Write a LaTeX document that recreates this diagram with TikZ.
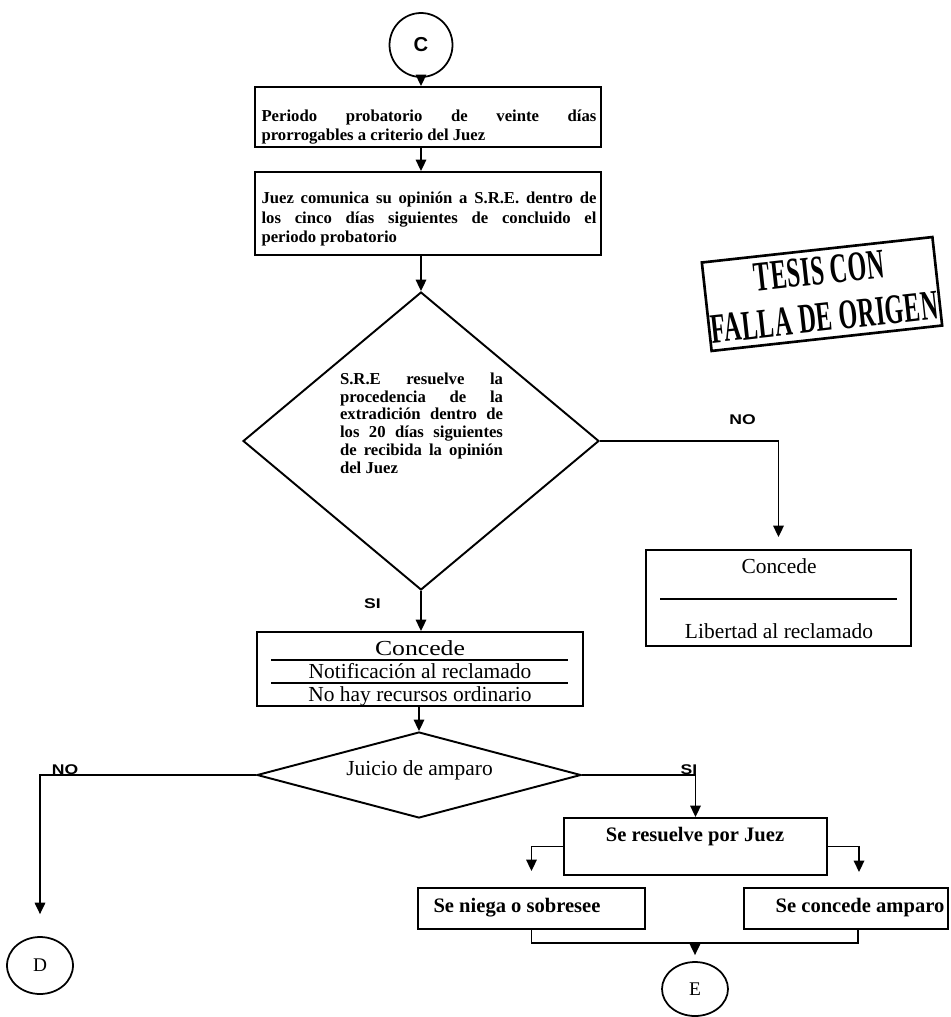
\documentclass[tikz,border=0pt]{standalone}
\usepackage{fontspec}
\setmainfont{Liberation Serif}
\newfontfamily\tagfont{Liberation Sans}
\newfontfamily\stampfont[LetterSpace=2]{Liberation Serif}
\usetikzlibrary{shapes.geometric,arrows.meta}

\begin{document}
\begin{tikzpicture}[x=0.02cm,y=-0.02cm,
  every node/.style={inner sep=0pt},
  frame/.style={draw,line width=1.1pt,rectangle},
  decision/.style={draw,line width=1.1pt,diamond},
  terminal/.style={draw,line width=1pt,ellipse},
  link/.style={line width=0.9pt},
  flow/.style={link,-{Triangle[length=6.5pt,width=6pt]}},
  rule/.style={line width=1.1pt},
  para/.style={font=\fontsize{9.5}{11.3}\selectfont\bfseries,align=justify,text width=6.7cm},
  entry/.style={font=\fontsize{12.2}{14}\selectfont,anchor=base},
  entryb/.style={font=\fontsize{11.7}{14}\selectfont\bfseries,anchor=base},
  tag/.style={font=\fontsize{8}{9}\selectfont\tagfont\bfseries},
  stamptext/.style={transform shape,align=center,font=\fontsize{13.7}{26.6}\selectfont\stampfont\bfseries},
]
\useasboundingbox (0,0) rectangle (950,1017);

% ---- entry connector and the two opening steps
\node[terminal,minimum width=1.26cm,minimum height=1.28cm] (C) at (421,45)
  {\fontsize{11.5}{12}\selectfont\tagfont\bfseries C};

\node[frame,minimum width=6.92cm,minimum height=1.2cm] (b1) at (428,117) {};
\node[para] (b1t) at (429,127)
  {Periodo probatorio de veinte días\linebreak prorrogables a criterio del Juez};

\node[frame,minimum width=6.92cm,minimum height=1.66cm] (b2) at (428,213.5) {};
\node[para,font=\fontsize{9.5}{10.9}\selectfont\bfseries] (b2t) at (429,219)
  {Juez comunica su opinión a S.R.E. dentro de\linebreak los cinco días siguientes de concluido el\linebreak periodo probatorio};

% ---- first decision
\node[decision,minimum width=7.12cm,minimum height=5.96cm] (d1) at (421,441) {};
\node[para,text width=3.26cm,font=\fontsize{9.5}{10.1}\selectfont\bfseries] (d1t) at (421.5,423)
  {S.R.E resuelve la\linebreak procedencia de la\linebreak extradición dentro de\linebreak los 20 días siguientes\linebreak de recibida la opinión\linebreak del Juez};

% ---- outcome boxes of the first decision
\node[frame,minimum width=6.52cm,minimum height=1.48cm] (b3) at (420,669) {};
\node[entry] (b3a) at (420,655.5) {\scalebox{1.2}[1]{Concede}};
\draw[rule] (271,660) -- (568,660);
\node[entry] (b3b) at (420,678.5) {Notificación al reclamado};
\draw[rule] (271,683) -- (568,683);
\node[entry] (b3c) at (420,701) {No hay recursos ordinario};

\node[frame,minimum width=5.3cm,minimum height=1.92cm] (b4) at (778.5,598) {};
\node[entry] (b4a) at (779,573) {Concede};
\draw[rule] (660,599) -- (897,599);
\node[entry] (b4b) at (779,638) {Libertad al reclamado};

% ---- second decision and its branches
\node[decision,minimum width=6.48cm,minimum height=1.72cm] (d2) at (419,775) {};
\node[entry] (d2t) at (419.5,775) {Juicio de amparo};

\node[frame,minimum width=5.26cm,minimum height=1.14cm] (b5) at (695.5,846.5) {};
\node[entryb] (b5t) at (695,841) {Se resuelve por Juez};

\node[frame,minimum width=4.54cm,minimum height=0.82cm] (b6) at (531.5,908.5) {};
\node[entryb] (b6t) at (517,912) {Se niega o sobresee};

\node[frame,minimum width=4.08cm,minimum height=0.82cm] (b7) at (846,908.5) {};
\node[entryb] (b7t) at (860,912) {Se concede amparo};

\node[terminal,minimum width=1.32cm,minimum height=1.14cm] (D) at (40,965.5)
  {\fontsize{11}{12}\selectfont D};
\node[terminal,minimum width=1.32cm,minimum height=1.08cm] (E) at (695,989)
  {\fontsize{11}{12}\selectfont E};

% ---- branch labels
\node[tag] (noA) at (742.5,420) {\scalebox{1.25}[1]{NO}};
\node[tag] (siA) at (372.5,604) {\scalebox{1.25}[1]{SI}};
\node[tag] (noB) at (65,770) {\scalebox{1.25}[1]{NO}};
\node[tag] (siB) at (689,770) {\scalebox{1.25}[1]{SI}};

% ---- connectors
\draw[flow] (C.south) -- (C.south |- b1.north);
\draw[flow] (b1.south -| C) -- (b2.north -| C);
\draw[flow] (b2.south -| d1.north) -- (d1.north);
\draw[flow] (d1.south) -- (d1.south |- b3.north);
\draw[flow,shorten >=0.24cm] (d1.east) -| (b4.north);
\draw[flow] (b3.south -| d2.north) -- (d2.north);
\draw[flow,shorten >=0.44cm] (d2.west) -| (D.north);
\draw[flow] (d2.east) -| (b5.north);
\draw[flow,shorten >=0.32cm] (b5.west) -| (b6.north);
\coordinate (b7in) at (859,888);
\draw[flow,shorten >=0.32cm] (b5.east) -| (b7in);
\coordinate (join) at (695,943);
\coordinate (b7out) at (858,929);
\draw[link] (b6.south) |- (join) -| (b7out);
\draw[flow,shorten >=0.12cm] (join) -- (E.north);

% ---- rubber stamp
\begin{scope}[shift={(822,294)},rotate=6.3]
  \node[draw,line width=1.5pt,minimum width=4.64cm,minimum height=1.78cm,transform shape] (stamp) at (0,0) {};
  \node[stamptext] (stampt) at (0,0)
    {\scalebox{1}[1.75]{TESIS CON}\hspace{18pt}\\\scalebox{1}[1.75]{FALLA DE ORIGEN}};
\end{scope}
\end{tikzpicture}
\end{document}
